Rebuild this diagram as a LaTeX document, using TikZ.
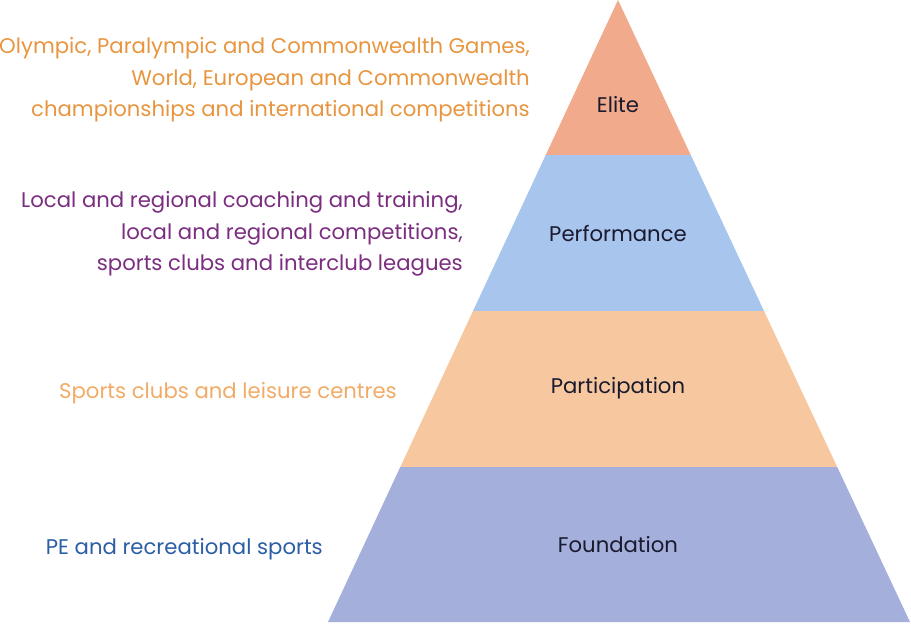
\documentclass[tikz,border=0pt]{standalone}
\usepackage{fontspec}
\setmainfont{Poppins}
\usetikzlibrary{calc}
\definecolor{elitefill}{HTML}{F2AA8C}
\definecolor{perffill}{HTML}{A7C5ED}
\definecolor{partfill}{HTML}{F7C89F}
\definecolor{foundfill}{HTML}{A4AFDC}
\definecolor{elitetext}{HTML}{E8953F}
\definecolor{perftext}{HTML}{7B2D80}
\definecolor{parttext}{HTML}{F2AB66}
\definecolor{foundtext}{HTML}{2B5EA3}
\definecolor{labeltext}{HTML}{1A1A2E}

\begin{document}
\begin{tikzpicture}
  [x=1pt,y=-1pt,every node/.style={inner sep=0pt,font=\fontsize{21.2}{31.5}\selectfont},
   side/.style={align=right,anchor=east}]
  \useasboundingbox (0,0) rectangle (911,625);
  \coordinate (apex) at (618,0);
  \coordinate (bl) at (328,622);
  \coordinate (br) at (910,622);

\foreach \ya/\yb/\col in
{0/155/elitefill, 155/311/perffill, 311/467/partfill, 467/622/foundfill}
    \fill[\col] ($(apex)!\ya/622!(bl)$) -- ($(apex)!\yb/622!(bl)$) -- ($(apex)!\yb/622!(br)$) -- ($(apex)!\ya/622!(br)$) -- cycle;

  \node[labeltext] (elite) at (618,105) {Elite};
  \node[labeltext] (perf) at (618,233) {Performance};
  \node[labeltext] (part) at (618,388) {Participation};
  \node[labeltext] (found) at (618,545) {Foundation};

  \node[side,elitetext] (elitetxt) at (530,80) {Olympic, Paralympic and Commonwealth Games,\\World, European and Commonwealth\\championships and international competitions};
  \node[side,perftext] (perftxt) at (463,234) {Local and regional coaching and training,\\local and regional competitions,\\sports clubs and interclub leagues};
  \node[side,parttext] (parttxt) at (397,393) {Sports clubs and leisure centres};
  \node[side,foundtext] (foundtxt) at (323,549) {PE and recreational sports};
\end{tikzpicture}
\end{document}
